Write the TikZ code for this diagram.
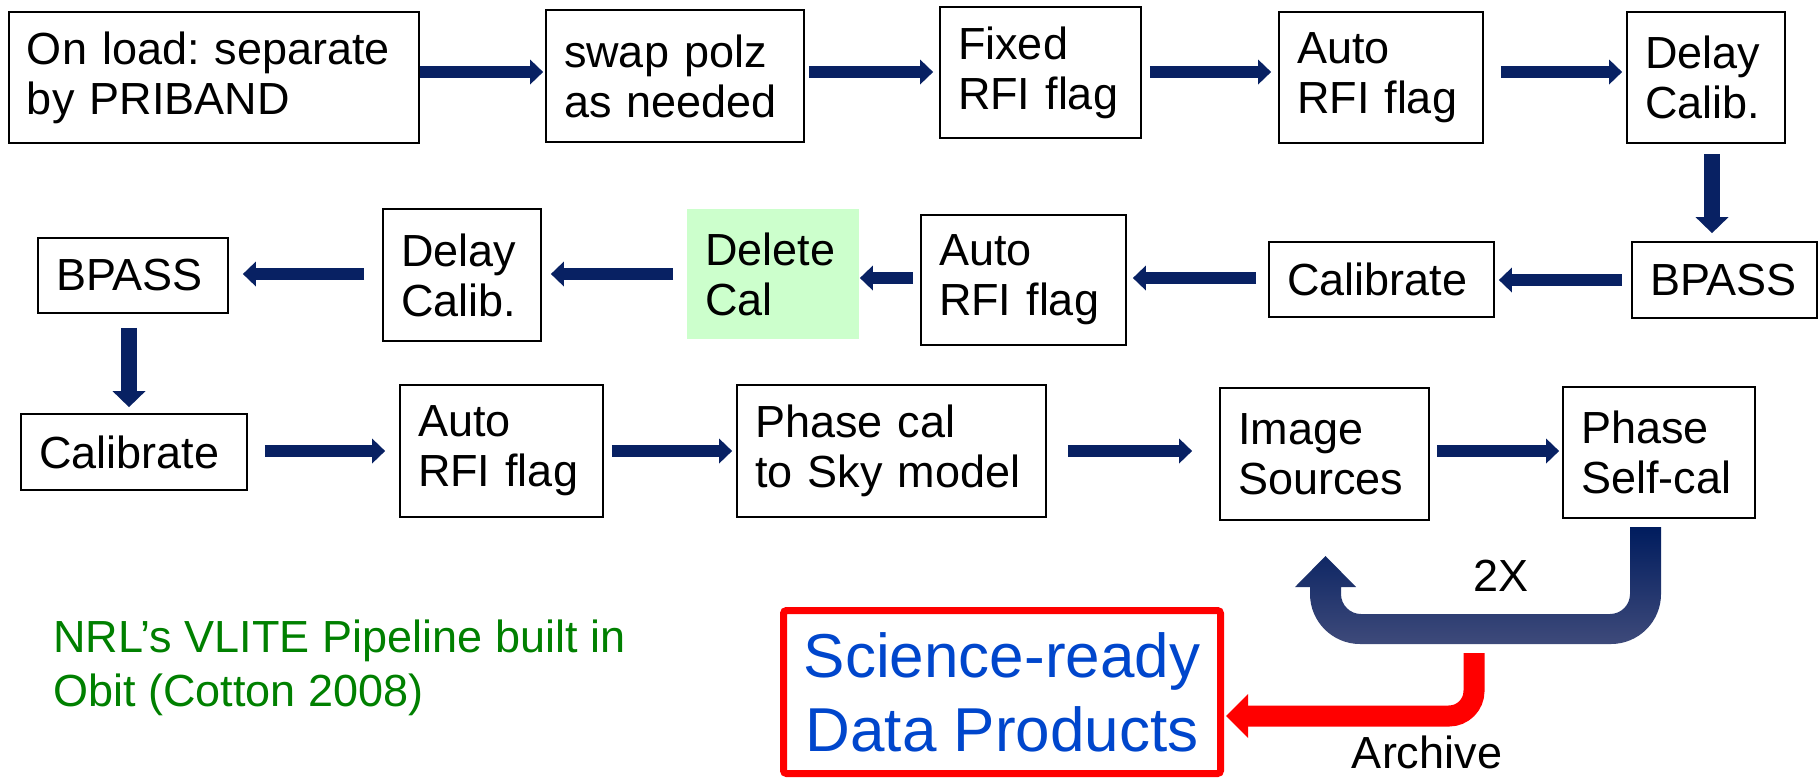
\documentclass[tikz,border=0pt]{standalone}
\usepackage{fontspec}
\setmainfont{Liberation Sans}
\usetikzlibrary{arrows.meta}
\frenchspacing

\definecolor{flownavy}{RGB}{8,33,99}
\definecolor{looptop}{RGB}{0,28,94}
\definecolor{loopmid}{RGB}{10,36,102}
\definecolor{loopbot}{RGB}{62,74,122}
\definecolor{archred}{RGB}{255,0,0}
\definecolor{sciblue}{RGB}{0,70,204}
\definecolor{vlitegreen}{RGB}{0,128,0}
\definecolor{calgreen}{RGB}{204,255,204}

\newcommand{\stagefont}{\fontsize{45}{50}\selectfont}

\begin{document}
\begin{tikzpicture}[
      x=1pt, y=-1pt,
      stage/.style={draw, line width=1.8pt, inner xsep=18pt, inner ysep=0pt,
        align=left, font=\stagefont},
      % highlighted step, no frame
      marked/.style={stage, draw=none, fill=calgreen},
      flow/.style={draw=flownavy, line width=12pt,
        -{Triangle[length=13pt, width=25pt, line width=0pt]}},
      vflow/.style={draw=flownavy, line width=16pt,
        -{Triangle[length=16pt, width=33pt, line width=0pt]}},
      archive/.style={draw=archred, line width=21pt, rounded corners=25pt,
        -{Triangle[length=22pt, width=44pt, line width=0pt]}},
      note/.style={inner sep=0pt, font=\stagefont}
    ]
    \useasboundingbox (0,0) rectangle (1819,777);

    % --- row 1 (left to right) ---
    \node[stage, text width=374pt, minimum height=131pt] (b1) at (214,77.5) {On load: separate\\by PRIBAND};
    \node[stage, text width=222pt, minimum height=132pt] (b2) at (675,76) {swap polz\\as needed};
    \node[stage, text width=165pt, minimum height=131pt] (b3) at (1040.5,72.5) {Fixed\\RFI flag};
    \node[stage, text width=168pt, minimum height=131pt] (b4) at (1381,77.5) {Auto\\RFI flag};
    \node[stage, text width=122pt, minimum height=131pt] (b5) at (1706,77.5) {Delay\\Calib.};

    % --- row 2 (right to left) ---
    \node[stage, text width=149pt, minimum height=76pt] (c1) at (1724.5,280) {BPASS};
    \node[stage, text width=189pt, minimum height=75pt] (c2) at (1381.5,279.5) {Calibrate};
    \node[stage, text width=169pt, minimum height=130pt] (c3) at (1023.5,280) {Auto\\RFI flag};
    \node[marked, text width=136pt, minimum height=130pt] (c4) at (773,274) {Delete\\Cal};
    \node[stage, text width=122pt, minimum height=132pt] (c5) at (462,275) {Delay\\Calib.};
    \node[stage, text width=154pt, minimum height=75pt] (c6) at (133,275.5) {BPASS};

    % --- row 3 (left to right) ---
    \node[stage, text width=190pt, minimum height=76pt] (d1) at (134,452) {Calibrate};
    \node[stage, text width=167pt, minimum height=132pt] (d2) at (501.5,451) {Auto\\RFI flag};
    \node[stage, text width=273pt, minimum height=132pt] (d3) at (891.5,451) {Phase cal\\to Sky model};
    \node[stage, text width=173pt, minimum height=132pt] (d4) at (1324.5,454) {Image\\Sources};
    \node[stage, text width=156pt, minimum height=131pt] (d5) at (1659,452.5) {Phase\\Self-cal};

    % --- flow arrows ---
    \foreach \from/\to/\y/\s/\e in {b1/b2/72/0pt/2pt, b2/b3/72/4pt/6pt, b3/b4/72/8pt/7pt,
        b4/b5/72/17pt/4pt, d1/d2/451/17pt/14pt, d2/d3/451/8pt/4pt,
        d3/d4/451/21pt/27pt, d4/d5/451/7pt/3pt} {
      \draw[flow, shorten <=\s, shorten >=\e] (\from.east |- 0,\y) -- (\to.west |- 0,\y);
    }
    \foreach \from/\to/\y/\s/\e in {c1/c2/280/9pt/4pt, c2/c3/278/12pt/6pt, c3/c4/278/7pt/0pt,
        c4/c5/274/13pt/9pt, c5/c6/274/18pt/14pt} {
      \draw[flow, shorten <=\s, shorten >=\e] (\from.west |- 0,\y) -- (\to.east |- 0,\y);
    }
    \draw[vflow, shorten <=10pt, shorten >=8pt] (b5.south -| 1712,0) -- (c1.north -| 1712,0);
    \draw[vflow, shorten <=14pt, shorten >=6pt] (c6.south -| 129,0) -- (d1.north -| 129,0);

    % --- self-cal loop (block arrow) ---
    \shade[top color=looptop, middle color=loopmid, bottom color=loopbot]
      (1630,527) -- (1661,527) -- (1661,594)
      arc[start angle=0, end angle=90, radius=50] -- (1360,644)
      arc[start angle=90, end angle=180, radius=50] -- (1310,587) -- (1295,587)
      -- (1325.5,556) -- (1356,587) -- (1341,587) -- (1341,594)
      arc[start angle=180, end angle=90, radius=20] -- (1610,614)
      arc[start angle=90, end angle=0, radius=20] -- cycle;
    \node[note] (reps) at (1501,576) {2X};

    % --- products ---
    \node[draw=archred, line width=7pt, rounded corners=3pt, minimum width=437pt,
          minimum height=163pt, inner sep=0pt, align=center, text=sciblue,
          font=\fontsize{62}{74}\selectfont] (sci) at (1002,692) {Science-ready\\Data Products};
    \coordinate (arch) at (1474,653);
    \draw[archive, shorten >=2pt] (arch) |- (sci.east |- 0,716);
    \node[note] (archlbl) at (1427,752) {Archive};

    \node[note, text=vlitegreen, align=left, anchor=west,
          font=\fontsize{45}{54}\selectfont] (credit) at (53,668) {NRL’s VLITE Pipeline built in\\Obit (Cotton 2008)};

  \end{tikzpicture}
\end{document}
